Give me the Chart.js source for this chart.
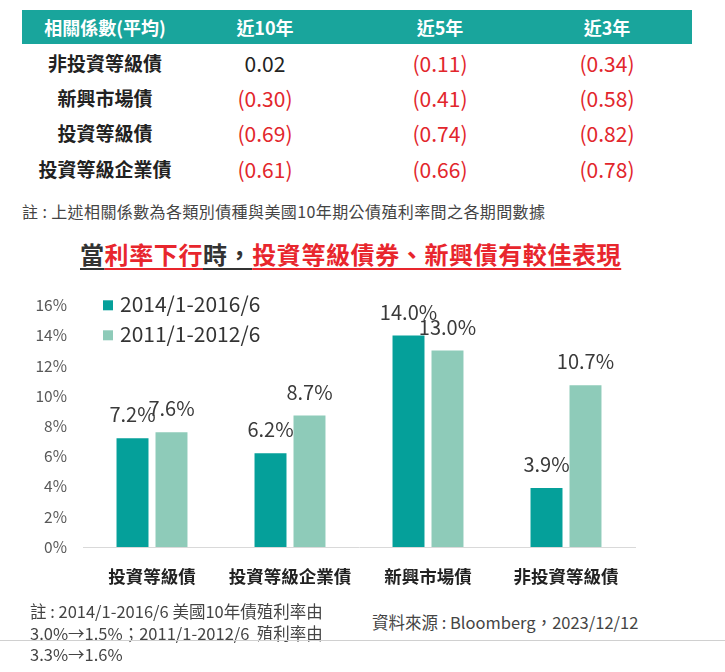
<!DOCTYPE html>
<html>
<head>
<meta charset="utf-8">
<script src="https://cdn.jsdelivr.net/npm/chart.js@4"></script>
<style>
  body{margin:0;width:725px;height:672px;background:#fff;position:relative;overflow:hidden;
    font-family:"Noto Sans CJK TC","Noto Sans",sans-serif;color:#222;}
  .abs{position:absolute;white-space:nowrap;}
  #head{left:22px;top:10px;width:670px;height:34px;background:#19a59c;}
  .hc{color:#fff;font-weight:bold;font-size:18px;width:170px;text-align:center;line-height:34px;top:10px;}
  .lab{font-weight:bold;font-size:19px;width:170px;text-align:center;}
  .val{font-size:21px;width:170px;text-align:center;}
  .neg{color:#e2262c;}
  #note1{left:22px;top:199px;font-size:16px;letter-spacing:0.4px;color:#444;}
  #title{left:80px;top:236px;font-size:24px;font-weight:bold;letter-spacing:0.6px;}
  #title span{text-decoration:underline;text-decoration-thickness:2px;text-underline-offset:4px;}
  .red{color:#e8262d;}
  .dk{color:#333;}
  #chartBox{position:absolute;left:0;top:280px;width:725px;height:320px;}
  #foot{left:30px;top:601px;font-size:16.5px;line-height:21.5px;color:#444;}
  #src{left:372px;top:610px;font-size:16.5px;color:#444;}
  #rule{left:0;top:640px;width:725px;height:1px;background:#d0d0d0;}
</style>
</head>
<body>
<div id="head" class="abs"></div>
<div id="tbl"></div>
<div id="note1" class="abs">註 : 上述相關係數為各類別債種與美國10年期公債殖利率間之各期間數據</div>
<div id="title" class="abs"><span class="dk">當</span><span class="red">利率下行</span><span class="dk">時，</span><span class="red">投資等級債券、新興債有較佳表現</span></div>
<div id="chartBox"><canvas id="chart"></canvas></div>
<div id="foot" class="abs">註 : 2014/1-2016/6 美國10年債殖利率由<br>3.0%→1.5%；2011/1-2012/6&nbsp; 殖利率由<br>3.3%→1.6%</div>
<div id="src" class="abs">資料來源 : Bloomberg，2023/12/12</div>
<div id="rule" class="abs"></div>
<script>
// correlation table
const tblHeaders = ["相關係數(平均)", "近10年", "近5年", "近3年"];
const tblRows = ["非投資等級債", "新興市場債", "投資等級債", "投資等級企業債"];
const corr10 = [0.02, -0.30, -0.69, -0.61];
const corr5 = [-0.11, -0.41, -0.74, -0.66];
const corr3 = [-0.34, -0.58, -0.82, -0.78];

// bar chart
const categories = ["投資等級債", "投資等級企業債", "新興市場債", "非投資等級債"];
const period1Label = "2014/1-2016/6";
const period2Label = "2011/1-2012/6";
const period1 = [7.2, 6.2, 14.0, 3.9];
const period2 = [7.6, 8.7, 13.0, 10.7];
const yTicks = [0, 2, 4, 6, 8, 10, 12, 14, 16];

const DARK = "#05a09a";
const LIGHT = "#8ecbb9";

// build table
const colX = [105, 265, 440, 607];
const rowY = [64, 99, 134, 170];
const tbl = document.getElementById("tbl");
function fmt(v){
  return v < 0 ? "(" + Math.abs(v).toFixed(2) + ")" : v.toFixed(2);
}
tblHeaders.forEach((h, i) => {
  const d = document.createElement("div");
  d.className = "abs hc";
  d.style.left = (colX[i] - 85) + "px";
  d.innerText = h;
  tbl.appendChild(d);
});
tblRows.forEach((r, j) => {
  const d = document.createElement("div");
  d.className = "abs lab";
  d.style.left = (colX[0] - 85) + "px";
  d.style.top = (rowY[j] - 15) + "px";
  d.innerText = r;
  tbl.appendChild(d);
  [corr10, corr5, corr3].forEach((arr, k) => {
    const v = document.createElement("div");
    v.className = "abs val" + (arr[j] < 0 ? " neg" : "");
    v.style.left = (colX[k + 1] - 85) + "px";
    v.style.top = (rowY[j] - 16) + "px";
    v.innerText = fmt(arr[j]);
    tbl.appendChild(v);
  });
});

const FONT = '"Noto Sans CJK TC","Noto Sans",sans-serif';

// labels above bars + legend inside plot
const extras = {
  id: "extras",
  afterDatasetsDraw(chart){
    const ctx = chart.ctx;
    ctx.save();
    ctx.font = "20px " + FONT;
    ctx.fillStyle = "#3a3a3a";
    ctx.textAlign = "center";
    ctx.textBaseline = "alphabetic";
    chart.data.datasets.forEach((ds, i) => {
      chart.getDatasetMeta(i).data.forEach((bar, j) => {
        ctx.fillText(ds.data[j].toFixed(1) + "%", bar.x, bar.y - 16);
      });
    });
    // legend
    const a = chart.chartArea;
    ctx.font = "21px " + FONT;
    ctx.textAlign = "left";
    ctx.textBaseline = "middle";
    chart.data.datasets.forEach((ds, i) => {
      const y = a.top + i * 30;
      ctx.fillStyle = ds.backgroundColor;
      ctx.fillRect(a.left + 20, y - 5, 10, 10);
      ctx.fillStyle = "#333";
      ctx.fillText(ds.label, a.left + 37, y - 1);
    });
    ctx.restore();
  }
};

new Chart(document.getElementById("chart"), {
  type: "bar",
  data: {
    labels: categories,
    datasets: [
      {label: period1Label, data: period1, backgroundColor: DARK},
      {label: period2Label, data: period2, backgroundColor: LIGHT}
    ]
  },
  options: {
    responsive: true,
    maintainAspectRatio: false,
    animation: false,
    categoryPercentage: 0.565,
    barPercentage: 0.82,
    layout: {padding: {left: 0, right: 90, top: 22, bottom: 10}},
    plugins: {legend: {display: false}, tooltip: {enabled: false}},
    scales: {
      x: {
        grid: {display: false, drawTicks: false},
        border: {display: true, color: "#d9d9d9", width: 1},
        ticks: {padding: 19, color: "#222", font: {family: FONT, size: 17.5, weight: "bold"}},
        afterFit(s){ s.height = 43; }
      },
      y: {
        min: 0, max: 16,
        afterBuildTicks(s){ s.ticks = yTicks.map(v => ({value: v})); },
        grid: {display: false, drawTicks: false},
        border: {display: false},
        ticks: {padding: 16, color: "#595959", font: {family: FONT, size: 15.5},
          callback: v => v + "%"},
        afterFit(s){ s.width = 83; }
      }
    }
  },
  plugins: [extras]
});
</script>
</body>
</html>
